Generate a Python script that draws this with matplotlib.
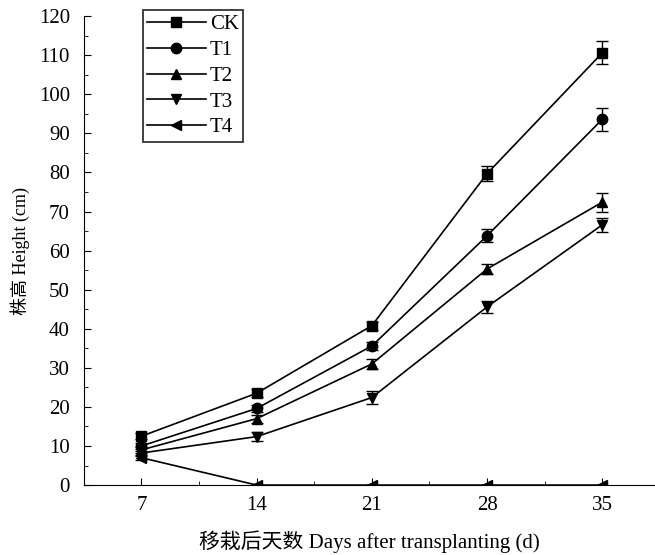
import matplotlib.pyplot as plt
import numpy as np
from matplotlib.ticker import MultipleLocator

plt.rcParams['font.family'] = ['Liberation Serif', 'Noto Sans CJK SC']

days = [7, 14, 21, 28, 35]

ck = [12.5, 23.5, 40.8, 79.7, 110.6]
t1 = [10.0, 19.6, 35.6, 63.8, 93.6]
t2 = [9.0, 17.0, 31.0, 55.3, 72.4]
t3 = [8.2, 12.4, 22.4, 45.6, 66.6]
t4 = [7.0, 0.0, 0.0, 0.0, 0.0]

ck_err = [0.8, 1.0, 1.0, 2.0, 2.9]
t1_err = [0.8, 1.0, 1.0, 1.6, 3.0]
t2_err = [0.7, 1.0, 1.2, 1.2, 2.4]
t3_err = [0.6, 1.2, 1.6, 1.6, 1.8]
t4_err = [0.5, 0.0, 0.0, 0.0, 0.0]

series = [
    ('CK', ck, ck_err, 's'),
    ('T1', t1, t1_err, 'o'),
    ('T2', t2, t2_err, '^'),
    ('T3', t3, t3_err, 'v'),
    ('T4', t4, t4_err, '<'),
]

fig = plt.figure(figsize=(6.55, 5.55), dpi=100)
ax = fig.add_axes([0.128, 0.126, 0.872, 0.845])

for name, vals, err, mk in series:
    ax.errorbar(days, vals, yerr=err, fmt='none', ecolor='black',
                elinewidth=1.0, capsize=4, capthick=1.0)
    ax.plot(days, vals, marker=mk, color='black', ms=7.5, lw=1.2, label=name)

ax.set_xlim(3.5, 38.2)
ax.set_ylim(0, 120)
ax.set_xticks(days)
ax.xaxis.set_minor_locator(MultipleLocator(3.5))
ax.yaxis.set_major_locator(MultipleLocator(10))
ax.yaxis.set_minor_locator(MultipleLocator(5))
ax.tick_params(which='both', direction='in', labelsize=15)
ax.tick_params(which='major', length=5)
ax.tick_params(which='minor', length=3)
ax.tick_params(axis='y', pad=10)
ax.tick_params(axis='x', pad=8)
ax.spines['top'].set_visible(False)
ax.spines['right'].set_visible(False)

ax.set_xlabel('移栽后天数 Days after transplanting (d)', fontsize=15, labelpad=11)
ax.set_ylabel('株高 Height (cm)', fontsize=13, labelpad=6)

leg = ax.legend(loc='upper left', bbox_to_anchor=(0.103, 1.013), fontsize=15,
                frameon=True, fancybox=False, edgecolor='black',
                handlelength=2.8, borderpad=0.22, labelspacing=0.3,
                handletextpad=0.2, borderaxespad=0)
leg.get_frame().set_linewidth(1.3)

fig.savefig('out.png', dpi=100)
